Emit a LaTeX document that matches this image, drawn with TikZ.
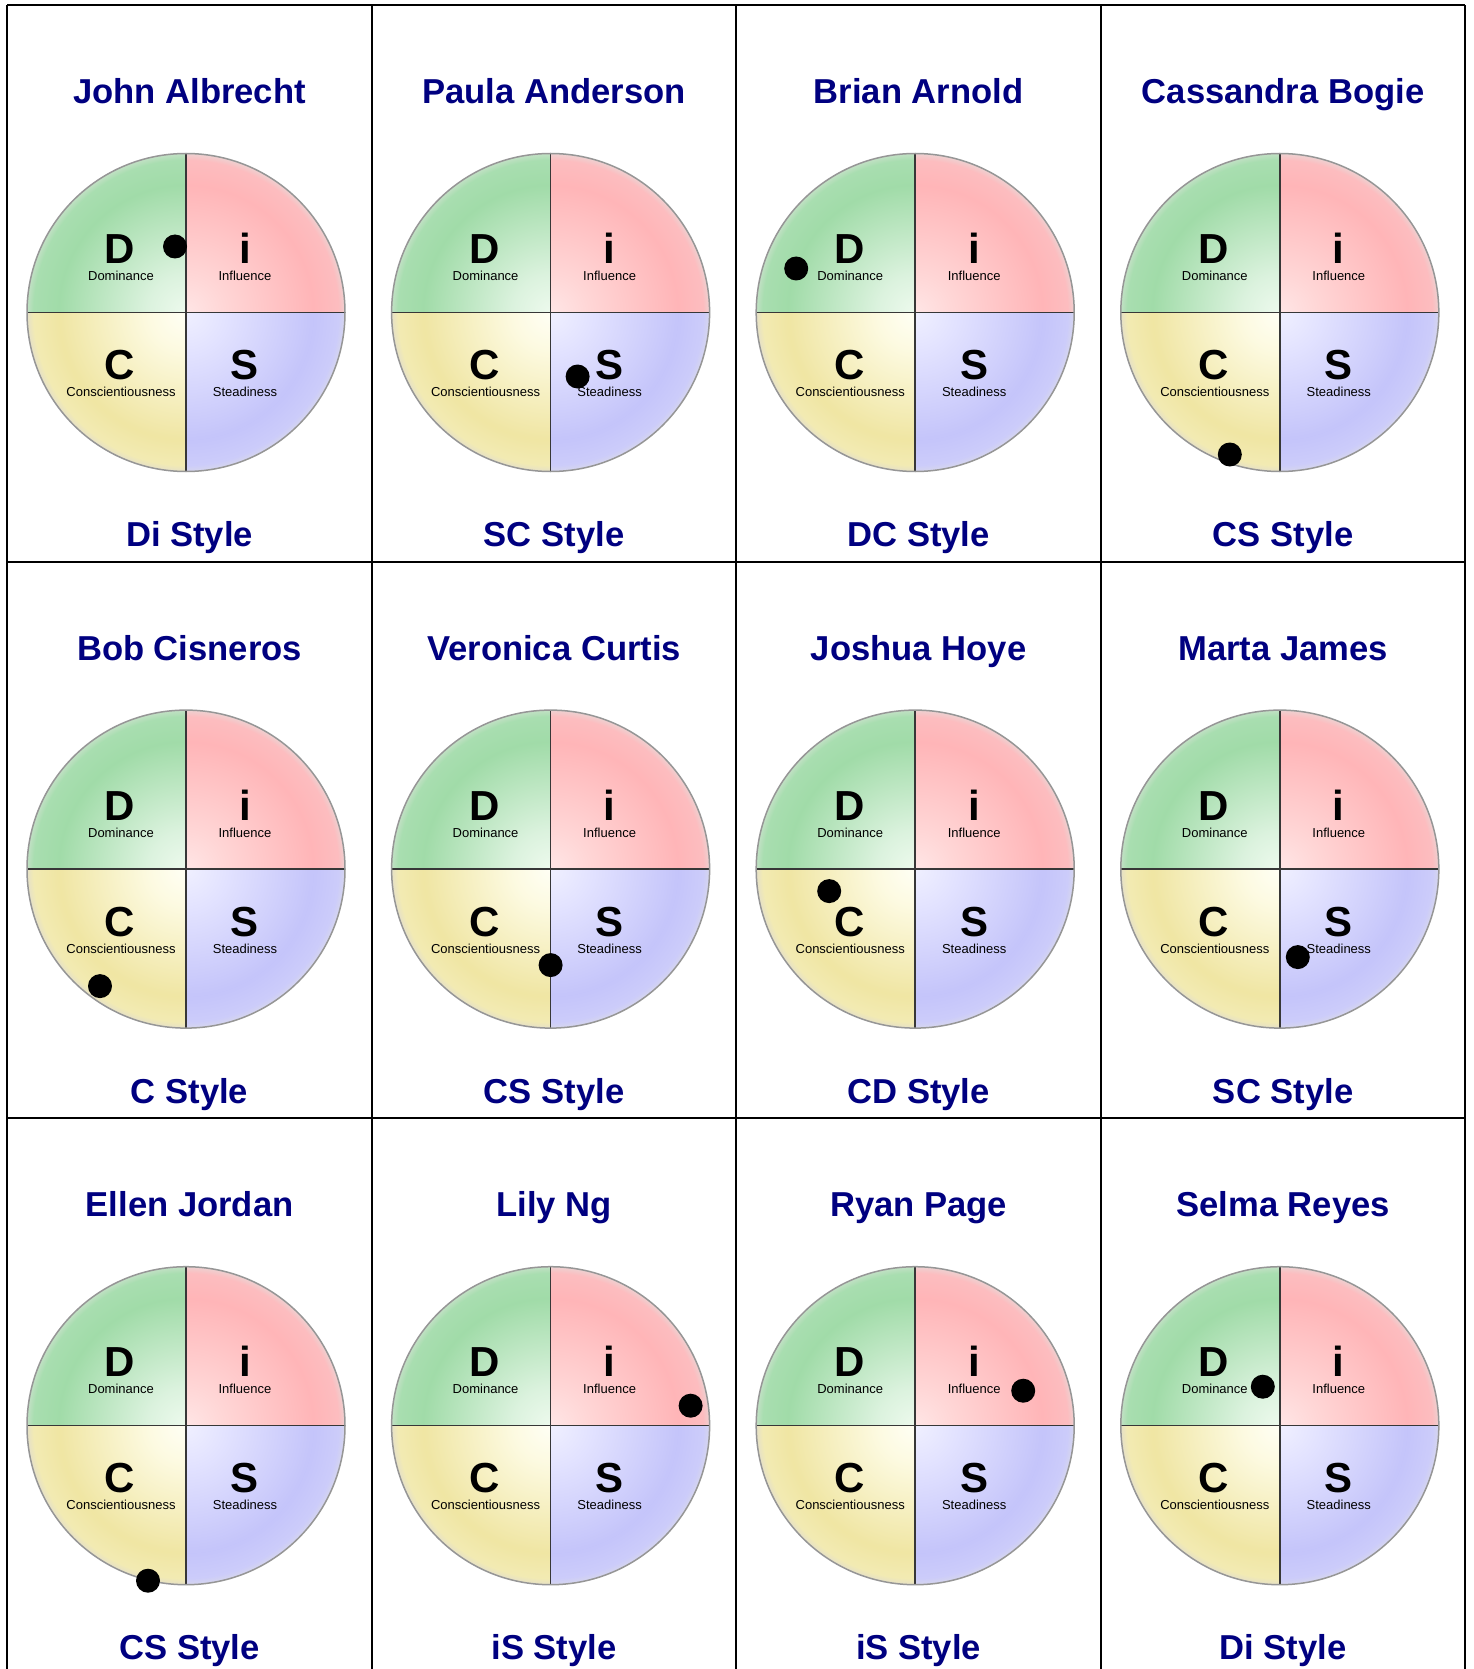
\documentclass[tikz,border=0pt]{standalone}
\usepackage{fontspec}
\setmainfont{Liberation Sans}
\usetikzlibrary{positioning}

\definecolor{namenavy}{RGB}{0,0,128}
\definecolor{rimgray}{RGB}{150,150,150}
\definecolor{crossgray}{RGB}{55,55,55}

\pgfdeclareradialshading{dshade}{\pgfpoint{0bp}{0bp}}{rgb(0bp)=(0.93,0.98,0.93); rgb(6bp)=(0.86,0.95,0.87); rgb(20bp)=(0.63,0.86,0.66); rgb(24bp)=(0.66,0.87,0.69); rgb(25bp)=(0.76,0.88,0.77); rgb(50bp)=(0.76,0.88,0.77)}
\pgfdeclareradialshading{ishade}{\pgfpoint{0bp}{0bp}}{rgb(0bp)=(1,0.9,0.9); rgb(6bp)=(1,0.84,0.84); rgb(20bp)=(1,0.71,0.72); rgb(24bp)=(0.99,0.74,0.75); rgb(25bp)=(0.93,0.82,0.82); rgb(50bp)=(0.93,0.82,0.82)}
\pgfdeclareradialshading{cshade}{\pgfpoint{0bp}{0bp}}{rgb(0bp)=(1,1,0.96); rgb(6bp)=(0.99,0.98,0.88); rgb(20bp)=(0.94,0.9,0.64); rgb(24bp)=(0.95,0.92,0.7); rgb(25bp)=(0.9,0.88,0.78); rgb(50bp)=(0.9,0.88,0.78)}
\pgfdeclareradialshading{sshade}{\pgfpoint{0bp}{0bp}}{rgb(0bp)=(0.94,0.94,1); rgb(6bp)=(0.89,0.89,1); rgb(20bp)=(0.77,0.77,0.98); rgb(24bp)=(0.8,0.8,0.98); rgb(25bp)=(0.84,0.84,0.93); rgb(50bp)=(0.84,0.84,0.93)}

\tikzset{
  personname/.style={anchor=base,inner sep=0pt,text=namenavy,font=\fontsize{34.6}{40}\selectfont\bfseries},
  biglet/.style={anchor=base,inner sep=0pt,font=\fontsize{42}{48}\selectfont\bfseries},
  smalllab/.style={anchor=base,inner sep=0pt,font=\fontsize{13}{15}\selectfont},
  gridline/.style={line width=2pt,black}
}

\begin{document}
\begin{tikzpicture}[x=1pt,y=-1pt]
  \useasboundingbox (0,0) rectangle (1473,1669);
  \fill[white] (0,0) rectangle (1473,1669);
  \def\R{159}
  \foreach \c/\r/\who/\sty/\dx/\dy in {
      0/0/John Albrecht/Di Style/-11/-66,
      1/0/Paula Anderson/SC Style/27/64,
      2/0/Brian Arnold/DC Style/-119/-44,
      3/0/Cassandra Bogie/CS Style/-50/142,
      0/1/Bob Cisneros/C Style/-86/117,
      1/1/Veronica Curtis/CS Style/0/96,
      2/1/Joshua Hoye/CD Style/-86/22,
      3/1/Marta James/SC Style/18/88,
      0/2/Ellen Jordan/CS Style/-38/155,
      1/2/Lily Ng/iS Style/140/-20,
      2/2/Ryan Page/iS Style/108/-35,
      3/2/Selma Reyes/Di Style/-17/-39} {
    \pgfmathsetmacro\cx{186+\c*364.6}
    \pgfmathsetmacro\cy{312.5+\r*556.6}
    \pgfmathsetmacro\tx{189.6+\c*364.5}
    \pgfmathsetmacro\ty{5.3+\r*556.4}
    \begin{scope}
      \clip (\cx,\cy) circle (\R);
      \begin{scope}
        \clip (\cx,\cy) rectangle ++(-\R,-\R);
        \shade[shading=dshade] (\cx,\cy) circle (\R);
      \end{scope}
      \begin{scope}
        \clip (\cx,\cy) rectangle ++(\R,-\R);
        \shade[shading=ishade] (\cx,\cy) circle (\R);
      \end{scope}
      \begin{scope}
        \clip (\cx,\cy) rectangle ++(-\R,\R);
        \shade[shading=cshade] (\cx,\cy) circle (\R);
      \end{scope}
      \begin{scope}
        \clip (\cx,\cy) rectangle ++(\R,\R);
        \shade[shading=sshade] (\cx,\cy) circle (\R);
      \end{scope}
    \end{scope}
    \draw[crossgray,line width=1.5pt] (\cx-\R,\cy) -- (\cx+\R,\cy) (\cx,\cy-\R) -- (\cx,\cy+\R);
    \draw[rimgray,line width=1.5pt] (\cx,\cy) circle (\R);
    \node[biglet] (d\c\r) at (\cx-66,\cy-49) {D};
    \node[smalllab] (dl\c\r) at (\cx-65,\cy-32) {Dominance};
    \node[biglet] (i\c\r) at (\cx+59,\cy-49) {i};
    \node[smalllab] (il\c\r) at (\cx+59,\cy-32) {Influence};
    \node[biglet] (c\c\r) at (\cx-66,\cy+67) {C};
    \node[smalllab] (cl\c\r) at (\cx-65,\cy+84) {Conscientiousness};
    \node[biglet] (s\c\r) at (\cx+59,\cy+67) {S};
    \node[smalllab] (sl\c\r) at (\cx+59,\cy+84) {Steadiness};
    \fill (\cx+\dx,\cy+\dy) circle (12);
    \node[personname] (who\c\r) at (\tx,\ty+98.7) {\who};
    \node[personname] (sty\c\r) at (\tx,\ty+541.5) {\sty};
  }
  \foreach \k in {0,...,4}
    \draw[gridline] (7.4+\k*364.5,5.3) -- (7.4+\k*364.5,1669);
  \foreach \k in {0,1,2}
    \draw[gridline] (7.4,5.3+\k*556.4) -- (1465.4,5.3+\k*556.4);
\end{tikzpicture}
\end{document}
